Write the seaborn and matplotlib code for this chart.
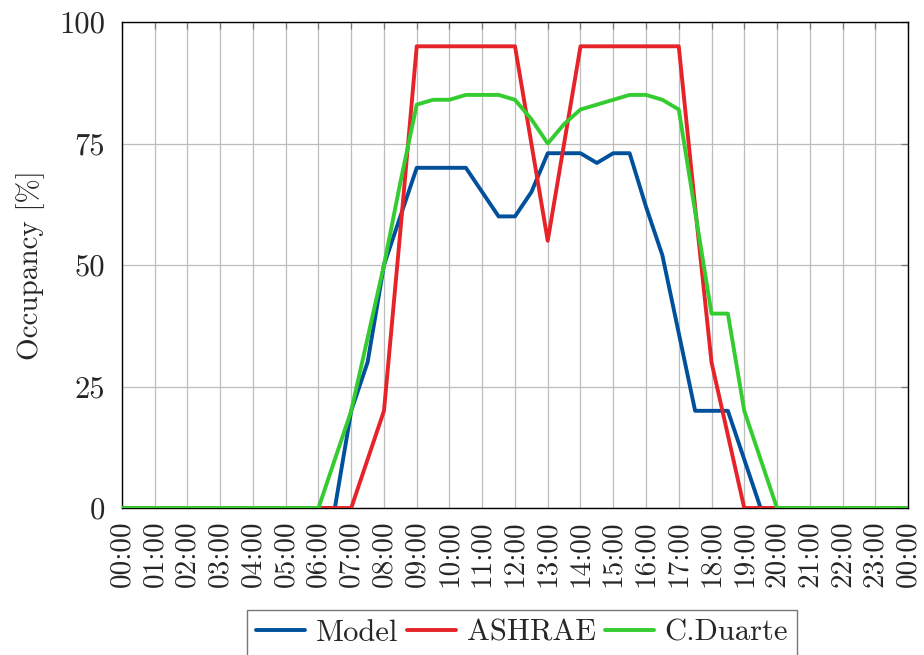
import numpy as np
import pandas as pd
import matplotlib
matplotlib.use("Agg")
import matplotlib.pyplot as plt
import seaborn as sns

# Half-hourly occupancy profiles over one day (hours 0..24)
hours = np.arange(0, 24.5, 0.5)

model = [0, 0, 0, 0, 0, 0, 0, 0, 0, 0, 0, 0,
         0, 0, 20, 30, 50, 60, 70, 70, 70, 70, 65, 60,
         60, 65, 73, 73, 73, 71, 73, 73, 62, 52, 36, 20,
         20, 20, 10, 0, 0, 0, 0, 0, 0, 0, 0, 0, 0]

ashrae = [0, 0, 0, 0, 0, 0, 0, 0, 0, 0, 0, 0,
          0, 0, 0, 10, 20, 57, 95, 95, 95, 95, 95, 95,
          95, 75, 55, 75, 95, 95, 95, 95, 95, 95, 95, 62,
          30, 15, 0, 0, 0, 0, 0, 0, 0, 0, 0, 0, 0]

duarte = [0, 0, 0, 0, 0, 0, 0, 0, 0, 0, 0, 0,
          0, 10, 20, 35, 50, 67, 83, 84, 84, 85, 85, 85,
          84, 80, 75, 79, 82, 83, 84, 85, 85, 84, 82, 61,
          40, 40, 20, 10, 0, 0, 0, 0, 0, 0, 0, 0, 0]

series_names = ["Model", "ASHRAE", "C.Duarte"]
series_colors = ["#00509b", "#e62328", "#35cc32"]

tick_hours = np.arange(0, 25)
tick_labels = [f"{h % 24:02d}:00" for h in tick_hours]

y_ticks = [0, 25, 50, 75, 100]

df = pd.DataFrame({
    "hour": np.tile(hours, 3),
    "occupancy": np.concatenate([model, ashrae, duarte]),
    "series": np.repeat(series_names, len(hours)),
})

sns.set_style("white")
plt.rcParams["font.family"] = ["cmr10", "DejaVu Serif"]
plt.rcParams["axes.unicode_minus"] = False
plt.rcParams["mathtext.fontset"] = "cm"

fig = plt.figure(figsize=(9.24, 6.55), dpi=100)
ax = fig.add_axes([0.132, 0.2244, 0.8507, 0.742])

sns.lineplot(data=df, x="hour", y="occupancy", hue="series",
             hue_order=series_names, palette=series_colors,
             linewidth=2.8, ax=ax, legend=True, zorder=3)

ax.set_xlim(0, 24)
ax.set_ylim(0, 100)
ax.set_xticks(tick_hours)
ax.set_xticklabels(tick_labels, rotation=90, fontsize=21)
ax.set_yticks(y_ticks)
ax.set_yticklabels([str(v) for v in y_ticks], fontsize=22)
ax.set_xlabel("")
ax.set_ylabel("Occupancy [%]", fontsize=21, labelpad=10)

ax.grid(True, color="#bdbdbd", linewidth=0.9, zorder=0)
ax.tick_params(axis="x", direction="in", length=5, width=0.9,
               color="#777777", top=True, pad=9)
ax.tick_params(axis="y", direction="in", length=5, width=0.9,
               color="#777777", right=True, pad=12)
for s in ax.spines.values():
    s.set_color("black")
    s.set_linewidth(1.0)

handles, labels = ax.get_legend_handles_labels()
leg = ax.legend(handles, labels, loc="upper center",
                bbox_to_anchor=(0.509, -0.21), ncol=3, fontsize=22,
                frameon=True, fancybox=False, edgecolor="#555555",
                handlelength=1.6, handletextpad=0.35, columnspacing=0.3,
                borderpad=0.3, borderaxespad=0.0)
leg.get_frame().set_linewidth(1.0)
for line in leg.get_lines():
    line.set_linewidth(2.8)

fig.savefig("out.png", dpi=100)
